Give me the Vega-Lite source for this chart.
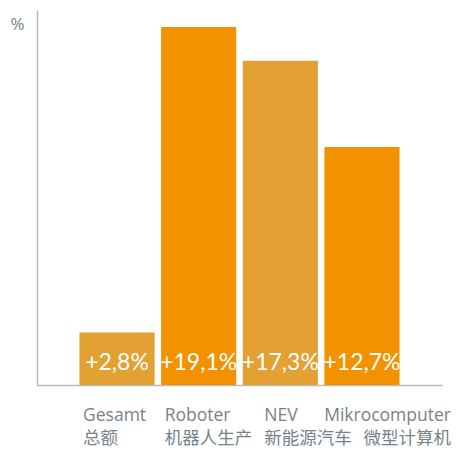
{
  "$schema": "https://vega.github.io/schema/vega-lite/v6.json",
  "width": 405,
  "height": 375,
  "autosize": "none",
  "padding": {"left": 37, "top": 10, "right": 16, "bottom": 70},
  "background": "white",
  "config": {"view": {"stroke": null}},
  "data": {
    "values": [
      {"kategorie": "Gesamt|总额", "wert": 2.8, "label": "+2,8%"},
      {"kategorie": "Roboter|机器人生产", "wert": 19.1, "label": "+19,1%"},
      {"kategorie": "NEV|新能源汽车", "wert": 17.3, "label": "+17,3%"},
      {"kategorie": "Mikrocomputer|微型计算机", "wert": 12.7, "label": "+12,7%"}
    ]
  },
  "encoding": {
    "x": {
      "field": "kategorie",
      "type": "nominal",
      "sort": null,
      "scale": {"paddingInner": 0.08, "paddingOuter": 0.52},
      "axis": {
        "title": null,
        "ticks": false,
        "domainColor": "#bbbbbb",
        "domainWidth": 1.5,
        "labelAngle": 0,
        "labelAlign": {
          "condition": {"test": "indexof(datum.value, 'Mikro') === 0", "value": "right"},
          "value": "left"
        },
        "labelOffset": {
          "condition": [
            {"test": "indexof(datum.value, 'Mikro') === 0", "value": 89},
            {"test": "indexof(datum.value, 'NEV') === 0", "value": -16}
          ],
          "value": -34
        },
        "labelExpr": "split(datum.label, '|')",
        "labelFont": "Open Sans, Noto Sans CJK SC",
        "labelFontSize": 17.5,
        "labelLineHeight": 23,
        "labelColor": "#76838b",
        "labelPadding": 21,
        "labelOverlap": false,
        "labelBound": false
      }
    },
    "y": {
      "field": "wert",
      "type": "quantitative",
      "scale": {"domain": [0, 20], "nice": false},
      "axis": {
        "title": "%",
        "titleAngle": 0,
        "titleX": -20,
        "titleY": 19,
        "titleAlign": "center",
        "titleBaseline": "alphabetic",
        "titleFont": "Open Sans",
        "titleFontSize": 17,
        "titleFontWeight": "normal",
        "titleColor": "#76838b",
        "labels": false,
        "ticks": false,
        "grid": false,
        "domainColor": "#bbbbbb",
        "domainWidth": 1.5
      }
    }
  },
  "layer": [
    {
      "mark": {"type": "bar"},
      "encoding": {
        "color": {
          "field": "kategorie",
          "type": "nominal",
          "sort": null,
          "legend": null,
          "scale": {"range": ["#E3A033", "#F39200", "#E3A033", "#F39200"]}
        }
      }
    },
    {
      "mark": {
        "type": "text",
        "color": "white",
        "font": "Lato",
        "fontSize": 23,
        "baseline": "alphabetic",
        "dy": -15
      },
      "encoding": {
        "y": {"datum": 0, "type": "quantitative"},
        "text": {"field": "label"}
      }
    }
  ]
}
